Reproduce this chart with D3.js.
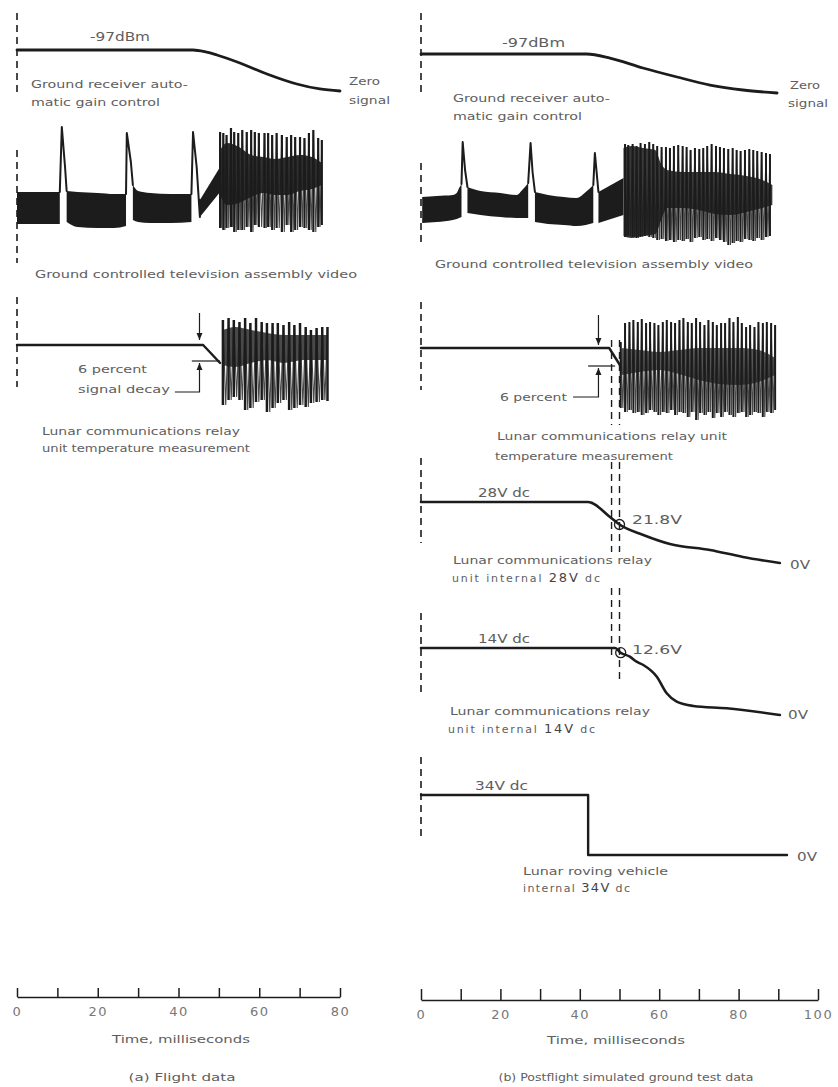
<!DOCTYPE html>
<html><head><meta charset="utf-8">
<script src="https://cdn.jsdelivr.net/npm/d3@7/dist/d3.min.js"></script>
<style>body{margin:0;background:#fff}</style>
</head><body>
<script>
// ---------------- DATA ----------------
// time axes (ms)
const ticksL = [0,10,20,30,40,50,60,70,80];
const tickLabelsL = ["0","","20","","40","","60","","80"];
const ticksR = [0,10,20,30,40,50,60,70,80,90,100];
const tickLabelsR = ["0","","20","","40","","60","","80","","100"];

// Ground receiver AGC (relative level, 1 = -97 dBm, 0 = zero signal)
const agcL_t = [0, 43.6, 46.5, 49.5, 55.2, 61.9, 69.3, 75.0, 80];
const agcL_v = [1, 1, 0.96, 0.878, 0.683, 0.415, 0.171, 0.049, 0];
const agcR_t = [0, 41.7, 47.6, 55.9, 64.5, 72.8, 81.1, 89.7];
const agcR_v = [1, 1, 0.897, 0.641, 0.41, 0.205, 0.077, 0];

// TV video (relative amplitude) - flight
const vidL_bands = [
  {t:[0, 5, 10.6], top:[43,43,43], bot:[11,11,11]},
  {t:[12.3, 15, 20, 24, 27.0], top:[44,43,42,41,41], bot:[13,8,7,7,9]},
  {t:[28.7, 30, 33, 38, 43.2], top:[50,44,42,41,41], bot:[15,13,12,12,13]},
  {t:[45.3, 50.3], top:[35,68], bot:[18,43]}
];
const vidL_spikes = [
  [[10.6,43],[11.1,108],[11.9,68],[12.3,44]],
  [[27.0,41],[27.2,102],[28.2,73],[28.7,50]],
  [[43.2,41],[43.6,103],[44.5,68],[45.3,18],[45.3,35]]
];
const vidL_osc_t = [50.3,51.1,51.9,53.0,53.8,54.8,55.8,56.9,58.0,58.9,59.9,61.3,62.2,63.2,64.3,65.6,66.8,67.9,68.9,70.1,71.2,72.3,73.4,74.6,75.5];
const vidL_osc_top = [103,102,100,107,103,102,105,103,105,103,102,102,102,100,102,100,98,100,98,98,97,102,105,97,95];
const vidL_osc_bot = [7,5,7,8,3,5,5,8,3,10,8,7,8,5,7,3,10,3,5,8,7,5,3,8,10];
const vidL_core_t = [50.3,52,55,58,61,64,67,70,73,75.5];
const vidL_core_top = [85,92,88,80,78,76,78,80,78,72];
const vidL_core_bot = [40,30,32,38,42,40,40,44,46,50];

// TV video - ground test
const vidR_bands = [
  {t:[0.3, 4, 8, 9.0, 9.6, 10.2], top:[53,54,55,57,62,66], bot:[27,28,30,31,32,33]},
  {t:[11.7, 15, 20, 24.1, 25.5, 27.0], top:[63,59,57,55,60,67], bot:[37,35,33,32,32,32]},
  {t:[28.7, 32, 36, 39.2, 41.5, 43.4], top:[58,55,53,52,58,65], bot:[28,26,25,24,25,27]},
  {t:[44.7, 51.0], top:[58,72], bot:[27,35]}
];
const vidR_spikes = [
  [[10.2,66],[10.5,108],[11.1,80],[11.7,63]],
  [[27.0,67],[27.6,107],[28.1,78],[28.7,58]],
  [[43.4,65],[43.8,97],[44.3,75],[44.7,58]]
];
const vidR_osc_t = [51.4,52.2,53.3,54.3,55.3,56.4,57.5,58.5,59.5,60.6,61.7,62.7,63.7,64.8,65.9,66.9,67.9,69.0,70.1,71.1,72.1,73.2,74.3,75.3,76.3,77.4,78.5,79.5,80.5,81.6,82.7,83.7,84.7,85.8,86.9,87.9];
const vidR_osc_top = [106,105,106,104,107,106,108,106,104,103,103,102,104,105,104,103,100,102,101,102,104,106,104,103,102,101,102,100,99,100,101,100,99,98,97,96];
const vidR_osc_bot = [13,14,13,12,13,14,13,12,10,11,9,10,8,10,9,11,8,12,13,10,11,9,12,10,8,5,7,9,8,11,10,9,12,10,13,14];
const vidR_core_t = [51,53,56,59,60.5,62,66,70,74,78,82,86,88.5];
const vidR_core_top = [102,104,102,100,86,80,78,78,78,76,74,70,65];
const vidR_core_bot = [14,12,14,16,30,42,42,40,36,35,38,42,45];

// LCRU temperature measurement (relative)
const tempL_t = [0, 46.1, 50.3];
const tempL_v = [70, 70, 52];
const tempL_osc_t = [51.0,52.4,53.7,55.1,56.5,57.8,59.2,60.6,61.9,63.3,64.6,66.0,67.4,68.7,70.1,71.5,72.8,74.2,75.6,76.9];
const tempL_osc_top = [95,97,95,93,97,92,97,93,92,92,92,90,93,90,92,88,85,87,88,88];
const tempL_osc_bot = [10,15,18,15,5,7,13,15,3,7,12,15,5,7,10,8,12,13,15,14];
const tempL_core_t = [51,54,58,62,66,71,77];
const tempL_core_top = [85,88,85,82,80,80,80];
const tempL_core_bot = [50,48,52,55,52,55,55];

const tempR_t = [0, 47.4, 50.1];
const tempR_v = [72, 72, 55];
const tempR_osc_t = [50.3,51.4,52.5,53.5,54.6,55.6,56.7,57.7,58.8,59.8,60.9,61.9,63.0,64.0,65.1,66.1,67.2,68.2,69.3,70.3,71.4,72.4,73.5,74.5,75.6,76.6,77.7,78.7,79.8,80.8,81.9,82.9,84.0,85.0,86.1,87.1,88.2,89.2];
const tempR_osc_top = [78,97,98,100,98,101,97,98,97,95,98,100,98,97,100,102,98,97,102,98,95,100,98,95,97,97,102,98,103,97,93,95,93,98,97,98,97,95];
const tempR_osc_bot = [12,8,10,7,8,5,7,10,8,5,8,7,10,5,8,7,3,8,0,7,5,8,2,7,3,8,5,3,7,8,3,5,8,7,3,8,7,10];
const tempR_core_t = [50.5,55,60,65,70,75,80,85,89.2];
const tempR_core_top = [72,70,68,70,72,72,72,70,62];
const tempR_core_bot = [45,48,50,46,40,36,35,38,45];

// LCRU internal 28V dc (relative)
const v28_t = [0, 42.1, 47.6, 49.9, 56.0, 62.7, 72.8, 81.1, 90.4];
const v28_v = [88, 88, 73, 65.7, 55, 46, 40, 33, 27];
const v28_mark = [50, 65.5];
// LCRU internal 14V dc (relative)
const v14_t = [0, 48.9, 50.3, 52.6, 54.3, 56.0, 59.4, 61.9, 64.4, 68.6, 77.0, 90.4];
const v14_v = [92, 92, 87.3, 83.3, 78.3, 75, 63.3, 46.7, 38.3, 34, 31.7, 25];
const v14_mark = [50.3, 87.3];
// LRV internal 34V dc (volts)
const v34_t = [0, 42.1, 92.2];
const v34_v = [34, 0, 0];
// marker times (ms) for double dashed lines
const markerT = [48, 50];

// ---------------- DRAWING ----------------
const W = 838, H = 1087, INK = "#1c1c1c", TXT = "#5e5e5e", FONT = "DejaVu Sans, sans-serif";
const svg = d3.select("body").append("svg").attr("width", W).attr("height", H);

const xL = d3.scaleLinear().domain([0, 80]).range([17, 340]);
const xR = d3.scaleLinear().domain([0, 100]).range([421, 818]);

const yAgcL = d3.scaleLinear().domain([0,1]).range([91,50]);
const yAgcR = d3.scaleLinear().domain([0,1]).range([93,54]);
const yVidL = d3.scaleLinear().domain([0,110]).range([235,125]);
const yVidR = d3.scaleLinear().domain([0,110]).range([250,140]);
const yTempL = d3.scaleLinear().domain([0,100]).range([415,315]);
const yTempR = d3.scaleLinear().domain([0,100]).range([420,320]);
const y28 = d3.scaleLinear().domain([0,100]).range([590,490]);
const y14 = d3.scaleLinear().domain([0,100]).range([740,640]);
const y34 = d3.scaleLinear().domain([0,34]).range([855,795]);

const zip = (a,b) => a.map((d,i)=>[d,b[i]]);

function dashV(x, y1, y2, w) {
  svg.append("line").attr("x1",x).attr("x2",x).attr("y1",y1).attr("y2",y2)
    .attr("stroke",INK).attr("stroke-width",w||1.6).attr("stroke-dasharray","7,5");
}
function trace(x, y, pts, curve, w) {
  svg.append("path").datum(pts)
    .attr("d", d3.line().x(d=>x(d[0])).y(d=>y(d[1])).curve(curve||d3.curveLinear))
    .attr("fill","none").attr("stroke",INK).attr("stroke-width",w||2.6)
    .attr("stroke-linejoin","round").attr("stroke-linecap","round");
}
function label(x, y, s, w, opt) {
  opt = opt || {};
  const t = svg.append("text").attr("x",x).attr("y",y).text(s)
    .attr("font-family",FONT).attr("font-size",opt.size||11).attr("fill",opt.fill||TXT);
  if (opt.anchor) t.attr("text-anchor",opt.anchor);
  if (w) t.attr("textLength",w).attr("lengthAdjust","spacingAndGlyphs");
  return t;
}
function bands(x, y, arr) {
  arr.forEach(b => {
    const pts = b.t.map((t,i)=>({t, top:b.top[i], bot:b.bot[i]}));
    svg.append("path").datum(pts)
      .attr("d", d3.area().x(d=>x(d.t)).y0(d=>y(d.bot)).y1(d=>y(d.top)).curve(d3.curveMonotoneX))
      .attr("fill",INK);
  });
}
function core(x, y, ts, tops, bots, op) {
  const pts = ts.map((t,i)=>({t, top:tops[i], bot:bots[i]}));
  svg.append("path").datum(pts)
    .attr("d", d3.area().x(d=>x(d.t)).y0(d=>y(d.bot)).y1(d=>y(d.top)).curve(d3.curveMonotoneX))
    .attr("fill",INK).attr("opacity",op||0.85);
}
function osc(x, y, ts, tops, bots, w) {
  svg.append("g").selectAll("line").data(ts).join("line")
    .attr("x1",d=>x(d)).attr("x2",d=>x(d))
    .attr("y1",(d,i)=>y(bots[i])).attr("y2",(d,i)=>y(tops[i]))
    .attr("stroke",INK).attr("stroke-width",w||1.7);
  const zz = [];
  ts.forEach((t,i)=>{ zz.push([t, tops[i]]); if (i<ts.length-1) zz.push([(t+ts[i+1])/2, bots[i]]); });
  svg.append("path").datum(zz)
    .attr("d", d3.line().x(d=>x(d[0])).y(d=>y(d[1])))
    .attr("fill","none").attr("stroke",INK).attr("stroke-width",1.1).attr("opacity",0.8);
}
function arrowHead(px, py, dir) {
  svg.append("path").attr("d", `M${px},${py} L${px-3},${py-7*dir} L${px+3},${py-7*dir} Z`).attr("fill",INK);
}

// ---- AGC panels
dashV(xL(0), 13, 97); dashV(xR(0), 13, 96);
trace(xL, yAgcL, zip(agcL_t, agcL_v), d3.curveMonotoneX, 2.8);
trace(xR, yAgcR, zip(agcR_t, agcR_v), d3.curveMonotoneX, 2.8);
label(90, 41, "-97dBm", 60, {size:12});
label(502, 47, "-97dBm", 63, {size:12});
label(31, 88, "Ground receiver auto-", 157);
label(31, 106, "matic gain control", 129);
label(453, 102, "Ground receiver auto-", 157);
label(453, 120, "matic gain control", 129);
label(349, 85, "Zero", 31); label(349, 104, "signal", 41);
label(790, 89, "Zero", 30); label(788, 107, "signal", 40);

// ---- Video panels
dashV(xL(0), 150, 263); dashV(xR(0), 163, 245);
bands(xL, yVidL, vidL_bands);
vidL_spikes.forEach(s => trace(xL, yVidL, s, d3.curveLinear, 2.0));
core(xL, yVidL, vidL_core_t, vidL_core_top, vidL_core_bot, 0.92);
osc(xL, yVidL, vidL_osc_t, vidL_osc_top, vidL_osc_bot, 2.2);
bands(xR, yVidR, vidR_bands);
vidR_spikes.forEach(s => trace(xR, yVidR, s, d3.curveLinear, 2.0));
core(xR, yVidR, vidR_core_t, vidR_core_top, vidR_core_bot, 0.88);
osc(xR, yVidR, vidR_osc_t, vidR_osc_top, vidR_osc_bot, 2.0);
label(35, 278, "Ground controlled television assembly video", 322);
label(435, 268, "Ground controlled television assembly video", 318);

// ---- Temperature panels
dashV(xL(0), 297, 387); dashV(xR(0), 302, 390);
markerT.forEach(t => dashV(xR(t), 340, 425, 1.4));
trace(xL, yTempL, zip(tempL_t, tempL_v), d3.curveLinear, 2.4);
core(xL, yTempL, tempL_core_t, tempL_core_top, tempL_core_bot, 0.8);
osc(xL, yTempL, tempL_osc_t, tempL_osc_top, tempL_osc_bot, 2.5);
trace(xR, yTempR, zip(tempR_t, tempR_v), d3.curveLinear, 2.4);
core(xR, yTempR, tempR_core_t, tempR_core_top, tempR_core_bot, 0.75);
osc(xR, yTempR, tempR_osc_t, tempR_osc_top, tempR_osc_bot, 2.0);

// 6 percent annotation (left)
{
  const ax = xL(45.2);
  svg.append("line").attr("x1",ax).attr("x2",ax).attr("y1",yTempL(102)).attr("y2",yTempL(75)).attr("stroke",INK).attr("stroke-width",1.2);
  arrowHead(ax, yTempL(75), 1);
  svg.append("line").attr("x1",xL(43.3)).attr("x2",xL(50.3)).attr("y1",yTempL(54)).attr("y2",yTempL(54)).attr("stroke",INK).attr("stroke-width",1.2);
  svg.append("path").attr("d",`M${xL(39.1)},${yTempL(23)} H${ax} V${yTempL(52)}`).attr("fill","none").attr("stroke",INK).attr("stroke-width",1.2);
  arrowHead(ax, yTempL(52), -1);
  label(78, 373, "6 percent", 69);
  label(78, 393, "signal decay", 92);
}
// 6 percent annotation (right)
{
  const ax = xR(44.7);
  svg.append("line").attr("x1",ax).attr("x2",ax).attr("y1",yTempR(105)).attr("y2",yTempR(75)).attr("stroke",INK).attr("stroke-width",1.2);
  arrowHead(ax, yTempR(75), 1);
  svg.append("line").attr("x1",xR(42.1)).attr("x2",xR(48.9)).attr("y1",yTempR(54)).attr("y2",yTempR(54)).attr("stroke",INK).attr("stroke-width",1.2);
  svg.append("path").attr("d",`M${xR(38.3)},${yTempR(23)} H${ax} V${yTempR(52)}`).attr("fill","none").attr("stroke",INK).attr("stroke-width",1.2);
  arrowHead(ax, yTempR(52), -1);
  label(500, 401, "6 percent", 67);
}
label(42, 435, "Lunar communications relay", 198);
label(42, 452, "unit temperature measurement", 208);
label(497, 440, "Lunar communications relay unit", 230);
label(495, 460, "temperature measurement", 178);

function mixedLabel(x, y, pre, big, post, w) {
  const t = label(x, y, pre, null);
  t.append("tspan").attr("font-size",13).attr("fill","#444").text(big);
  t.append("tspan").text(post);
  t.attr("textLength", w).attr("lengthAdjust","spacing");
}

// ---- 28V panel
dashV(xR(0), 458, 543);
markerT.forEach(t => dashV(xR(t), 462, 552, 1.4));
trace(xR, y28, zip(v28_t, v28_v), d3.curveMonotoneX, 2.6);
svg.append("circle").attr("cx",xR(v28_mark[0])).attr("cy",y28(v28_mark[1])).attr("r",5)
  .attr("fill","none").attr("stroke",INK).attr("stroke-width",1.3);
label(478, 497, "28V dc", 52, {size:12});
label(632, 524, "21.8V", 50, {size:12});
label(790, 569, "0V", 20, {size:12});
label(453, 564, "Lunar communications relay", 199);
mixedLabel(452, 582, "unit internal ", "28V", " dc", 148);

// ---- 14V panel
dashV(xR(0), 613, 697);
dashV(xR(markerT[0]), 588, 657, 1.4);
dashV(xR(markerT[1]), 588, 680, 1.4);
trace(xR, y14, zip(v14_t, v14_v), d3.curveMonotoneX, 2.6);
svg.append("circle").attr("cx",xR(v14_mark[0])).attr("cy",y14(v14_mark[1])).attr("r",5)
  .attr("fill","none").attr("stroke",INK).attr("stroke-width",1.3);
label(478, 643, "14V dc", 52, {size:12});
label(632, 654, "12.6V", 50, {size:12});
label(788, 719, "0V", 20, {size:12});
label(450, 715, "Lunar communications relay", 200);
mixedLabel(448, 733, "unit internal ", "14V", " dc", 147);

// ---- 34V panel
dashV(xR(0), 757, 837);
trace(xR, y34, zip(v34_t, v34_v), d3.curveStepAfter, 2.4);
label(475, 790, "34V dc", 53, {size:12});
label(797, 861, "0V", 20, {size:12});
label(523, 875, "Lunar roving vehicle", 145);
mixedLabel(523, 892, "internal ", "34V", " dc", 107);

// ---- Axes
function styleAxis(g) {
  g.select(".domain").attr("stroke",INK).attr("stroke-width",1.7);
  g.selectAll(".tick line").attr("stroke",INK).attr("stroke-width",1.5);
  g.selectAll(".tick text").attr("font-family",FONT).attr("font-size",13).attr("fill","#777").attr("letter-spacing",1.5);
}
const axL = d3.axisBottom(xL).tickValues(ticksL).tickSizeInner(-9).tickSizeOuter(0).tickPadding(10)
  .tickFormat((d,i)=>tickLabelsL[i]);
svg.append("g").attr("transform","translate(0,997)").call(axL).call(styleAxis).attr("font-family",FONT);
const axR = d3.axisBottom(xR).tickValues(ticksR).tickSizeInner(-11).tickSizeOuter(0).tickPadding(10)
  .tickFormat((d,i)=>tickLabelsR[i]);
svg.append("g").attr("transform","translate(0,1000)").call(axR).call(styleAxis).attr("font-family",FONT);

label(181, 1043, "Time, milliseconds", 138, {anchor:"middle"});
label(616, 1044, "Time, milliseconds", 138, {anchor:"middle"});
label(182, 1081, "(a) Flight data", 107, {anchor:"middle"});
label(626, 1081, "(b) Postflight simulated ground test data", 255, {anchor:"middle"});
</script>
</body></html>
